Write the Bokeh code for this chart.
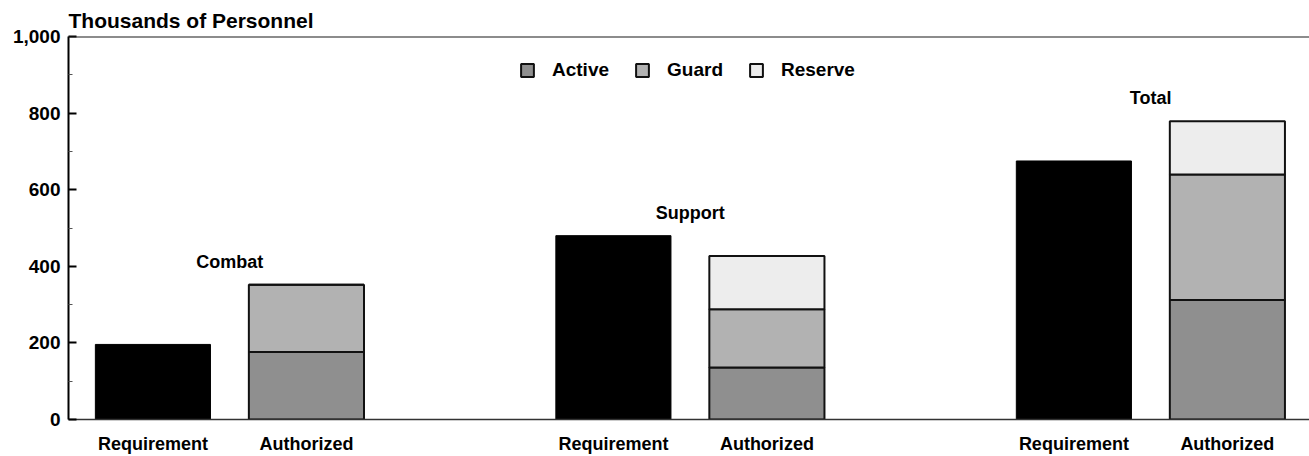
import numpy as np
from bokeh.plotting import figure
from bokeh.models import (ColumnDataSource, FixedTicker, NumeralTickFormatter, Span,
                          Legend, LegendItem, Range1d)
from bokeh.core.properties import value
from bokeh.embed import file_html
from bokeh.resources import INLINE

# ---- data ----
groups = ["Combat", "Support", "Total"]
bar_labels = ["Requirement", "Authorized"]
requirement = [196, 480, 675]
active = [176, 136, 312]
guard = [176, 152, 328]
reserve = [0, 139, 139]
components = ["Active", "Guard", "Reserve"]
y_ticks = [0, 200, 400, 600, 800, 1000]
y_minor = [100, 300, 500, 700, 900]

FONT = "Liberation Sans"
comp_colors = ["#8f8f8f", "#b2b2b2", "#ededed"]

group_pos = np.arange(len(groups)) * 3
req_x = group_pos
auth_x = group_pos + 1

p = figure(width=1309, height=456, output_backend="svg", toolbar_location=None,
           x_range=Range1d(-0.55, 7.535), y_range=Range1d(0, 1000),
           min_border_left=68, min_border_right=0, min_border_top=36,
           min_border_bottom=34)

p.title.text = "Thousands of Personnel"
p.title.text_font = FONT
p.title.text_font_style = "bold"
p.title.text_font_size = "21px"
p.title.text_color = "black"
p.title.align = "left"
p.title.standoff = 9
p.title.offset = 0

p.outline_line_color = None
p.xgrid.grid_line_color = None
p.ygrid.grid_line_color = None

# Requirement bars
req_src = ColumnDataSource(dict(x=req_x, top=requirement))
p.vbar(x="x", top="top", width=0.75, source=req_src,
       fill_color="black", line_color="black", line_width=1)

# Authorized stacked bars
auth_src = ColumnDataSource(dict(x=auth_x, Active=active, Guard=guard, Reserve=reserve))
rs = p.vbar_stack(components, x="x", width=0.75, source=auth_src,
                  fill_color=comp_colors, line_color="#111111", line_width=2)

legend = Legend(items=[LegendItem(label=n, renderers=[r]) for n, r in zip(components, rs)],
                orientation="horizontal", location=(451, 338))
legend.border_line_color = None
legend.background_fill_alpha = 0
legend.padding = 0
legend.margin = 0
legend.spacing = 25
legend.label_standoff = 17
legend.glyph_width = 16
legend.glyph_height = 16
legend.label_text_font = FONT
legend.label_text_font_style = "bold"
legend.label_text_font_size = "19px"
legend.label_text_color = "black"
p.add_layout(legend)

# group labels
auth_total = np.add(np.add(active, guard), reserve)
lab_src = ColumnDataSource(dict(x=group_pos + 0.5,
                                y=np.maximum(requirement, auth_total),
                                text=groups))
p.text(x="x", y="y", text="text", source=lab_src, y_offset=-23,
       text_align="center", text_baseline="alphabetic",
       text_font=value(FONT), text_font_style="bold", text_font_size="18px",
       text_color="black")

# top line at 1,000
p.add_layout(Span(location=1000, dimension="width", line_color="#1a1a1a", line_width=2))

# x axis
ticks = sorted(list(req_x) + list(auth_x))
overrides = {}
for rx, ax in zip(req_x, auth_x):
    overrides[int(rx)] = bar_labels[0]
    overrides[int(ax)] = bar_labels[1]
p.xaxis.ticker = FixedTicker(ticks=[int(t) for t in ticks])
p.xaxis.major_label_overrides = overrides
p.xaxis.major_tick_line_color = None
p.xaxis.minor_tick_line_color = None
p.xaxis.axis_line_color = "#333333"
p.xaxis.axis_line_width = 1.5
p.xaxis.major_label_text_font = FONT
p.xaxis.major_label_text_font_style = "bold"
p.xaxis.major_label_text_font_size = "18px"
p.xaxis.major_label_text_color = "black"
p.xaxis.major_label_standoff = 8

# y axis
p.yaxis.ticker = FixedTicker(ticks=y_ticks, minor_ticks=y_minor)
p.yaxis.formatter = NumeralTickFormatter(format="0,0")
p.yaxis.major_tick_in = 8
p.yaxis.major_tick_out = 0
p.yaxis.minor_tick_in = 4
p.yaxis.minor_tick_out = 0
p.yaxis.axis_line_width = 2
p.yaxis.axis_line_color = "black"
p.yaxis.major_tick_line_width = 2
p.yaxis.major_tick_line_color = "black"
p.yaxis.minor_tick_line_color = "#555555"
p.yaxis.major_label_text_font = FONT
p.yaxis.major_label_text_font_style = "bold"
p.yaxis.major_label_text_font_size = "19px"
p.yaxis.major_label_text_color = "black"
p.yaxis.major_label_standoff = 8

open("out.html", "w").write(file_html(p, INLINE))
